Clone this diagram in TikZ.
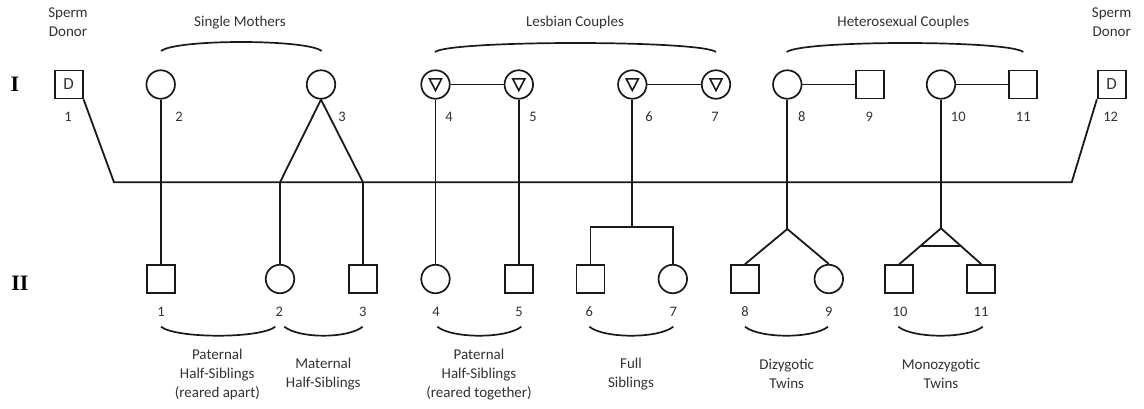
\documentclass[tikz,border=0pt]{standalone}
\usepackage{fontspec}
\setmainfont{Carlito}
\newfontfamily\romfont{Liberation Serif}
\usetikzlibrary{calc}
\definecolor{txt}{RGB}{50,50,50}
\definecolor{ln}{RGB}{25,25,25}
\begin{document}
\begin{tikzpicture}[x=1pt,y=-1pt,
  line width=1.8pt, draw=ln,
  sq/.style={draw=ln, line width=1.7pt, minimum size=28pt, inner sep=0pt, text=txt, font=\fontsize{17}{18}\selectfont},
  ci/.style={draw=ln, line width=1.7pt, circle, minimum size=28.5pt, inner sep=0pt},
  num/.style={text=txt, font=\fontsize{14.5}{17}\selectfont, inner sep=0pt},
  lab/.style={text=txt, font=\fontsize{15}{18.8}\selectfont, align=center, inner sep=0pt},
  gen/.style={text=black, font=\romfont\bfseries\fontsize{22}{22}\selectfont, inner sep=0pt},
  brc/.style={draw=ln, line width=1.7pt},
  tri/.style={draw=ln, line width=1.6pt, line join=miter}]
\useasboundingbox (0,0) rectangle (1144,408);

% generation labels
\node[gen] (gI) at (15,84) {I};
\node[gen] (gII) at (20,283) {II};

% top labels
\node[lab] (sdL) at (68,22) {Sperm\\Donor};
\node[lab] (tSM) at (240,22.3) {Single Mothers};
\node[lab] (tLC) at (575,22.3) {Lesbian Couples};
\node[lab] (tHC) at (903.3,22.3) {Heterosexual Couples};
\node[lab] (sdR) at (1111.7,22) {Sperm\\Donor};

% generation I
\node[sq] (d1) at (68.7,84.5) {D};
\node[ci] (m2) at (160.7,84.5) {};
\node[ci] (m3) at (321,84.5) {};
\node[ci] (l4) at (435.5,84.5) {};
\node[ci] (l5) at (518.8,84.5) {};
\node[ci] (l6) at (632.3,84.5) {};
\node[ci] (l7) at (716,84.5) {};
\node[ci] (h8) at (787.3,84.5) {};
\node[sq] (h9) at (869.7,84.5) {};
\node[ci] (h10) at (941,84.5) {};
\node[sq] (h11) at (1023.3,84.5) {};
\node[sq] (d12) at (1111.7,84.5) {D};

\foreach \n in {l4,l5,l6,l7}
  \draw[tri] ([shift={(-6,-5.6)}]\n.center) -- ++(12,0) -- ++(-6,11.6) -- cycle;

% numbers generation I
\node[num] (n1) at (68,116.7) {1};
\node[num] (n2) at (179,116.7) {2};
\node[num] (n3) at (342,116.7) {3};
\node[num] (n4) at (449,116.7) {4};
\node[num] (n5) at (533,116.7) {5};
\node[num] (n6) at (649,116.7) {6};
\node[num] (n7) at (715,116.7) {7};
\node[num] (n8) at (801.7,116.7) {8};
\node[num] (n9) at (869.3,116.7) {9};
\node[num] (n10) at (958.3,116.7) {10};
\node[num] (n11) at (1023.3,116.7) {11};
\node[num] (n12) at (1110.7,116.7) {12};

% top braces
\draw[brc] (161,51) .. controls +(15,-12) and +(-15,-12) .. (321.7,51);
\draw[brc] (435,52) .. controls +(15,-12) and +(-15,-12) .. (716,52);
\draw[brc] (786.7,52) .. controls +(15,-12) and +(-15,-12) .. (1023.3,52);

% generation II
\node[sq] (c1) at (160.7,279) {};
\node[ci] (c2) at (280,279) {};
\node[sq] (c3) at (363,279) {};
\node[ci] (c4) at (435.5,279) {};
\node[sq] (c5) at (518.8,279) {};
\node[sq] (c6) at (590.5,279) {};
\node[ci] (c7) at (672.8,279) {};
\node[sq] (c8) at (745,279) {};
\node[ci] (c9) at (828.8,279) {};
\node[sq] (c10) at (899.3,279) {};
\node[sq] (c11) at (981.3,279) {};

% numbers generation II
\node[num] (k1) at (161,311.7) {1};
\node[num] (k2) at (279.3,311.7) {2};
\node[num] (k3) at (362.7,311.7) {3};
\node[num] (k4) at (436,311.7) {4};
\node[num] (k5) at (519,311.7) {5};
\node[num] (k6) at (589.3,311.7) {6};
\node[num] (k7) at (673.3,311.7) {7};
\node[num] (k8) at (745,311.7) {8};
\node[num] (k9) at (828.7,311.7) {9};
\node[num] (k10) at (900,311.7) {10};
\node[num] (k11) at (981,311.7) {11};

% junction coordinates
\coordinate (hL) at (114,182.3);
\coordinate (hR) at (1071.7,182.3);
\coordinate (j2) at (280,182.3);
\coordinate (j3) at (363,182.3);
\coordinate (s6) at (632.3,226.7);
\coordinate (sL) at (590.5,226.7);
\coordinate (sR) at (672.8,226.7);
\coordinate (tz) at (787.3,229);
\coordinate (tm) at (941,228.3);

% donor line
\draw (d1.south east) -- (hL) -- (hR) -- (d12.south west);

% single mothers
\draw (m2.south) -- (c1.north);
\draw (j2) -- (m3.south) -- (j3);
\draw (j2) -- (c2.north);
\draw (j3) -- (c3.north);

% lesbian couples
\draw (l4) -- (l5);
\draw (l6) -- (l7);
\draw (l4.south) -- (c4.north);
\draw (l5.south) -- (c5.north);
\draw (l6.south) -- (s6);
\draw (c6.north) -- (sL) -- (sR) -- (c7.north);

% heterosexual couples
\draw (h8) -- (h9);
\draw (h10) -- (h11);
\draw (h8.south) -- (tz);
\draw (c8.north) -- (tz) -- (c9.north);
\draw (h10.south) -- (tm);
\draw (c10.north) -- (tm) -- (c11.north);
\draw ($(tm)!0.486!(c10.north)$) -- ($(tm)!0.486!(c11.north)$);

% bottom braces
\draw[brc] (161,326.7) .. controls +(15,12) and +(-15,12) .. (275.3,326.7);
\draw[brc] (284.3,326.7) .. controls +(15,12) and +(-15,12) .. (362.7,326.7);
\draw[brc] (437.3,326.7) .. controls +(15,12) and +(-15,12) .. (521.3,326.7);
\draw[brc] (589.3,326.7) .. controls +(15,12) and +(-15,12) .. (673.3,326.7);
\draw[brc] (745,326.7) .. controls +(15,12) and +(-15,12) .. (828,326.7);
\draw[brc] (898.3,326.7) .. controls +(15,12) and +(-15,12) .. (982.7,326.7);

% bottom labels
\node[lab] (bPA) at (217.3,374.3) {Paternal\\Half-Siblings\\(reared apart)};
\node[lab] (bMH) at (323.3,374) {Maternal\\Half-Siblings};
\node[lab] (bPT) at (479,374.3) {Paternal\\Half-Siblings\\(reared together)};
\node[lab] (bFS) at (631,374) {Full\\Siblings};
\node[lab] (bDZ) at (786.7,374) {Dizygotic\\Twins};
\node[lab] (bMZ) at (941,374) {Monozygotic\\Twins};
\end{tikzpicture}
\end{document}
